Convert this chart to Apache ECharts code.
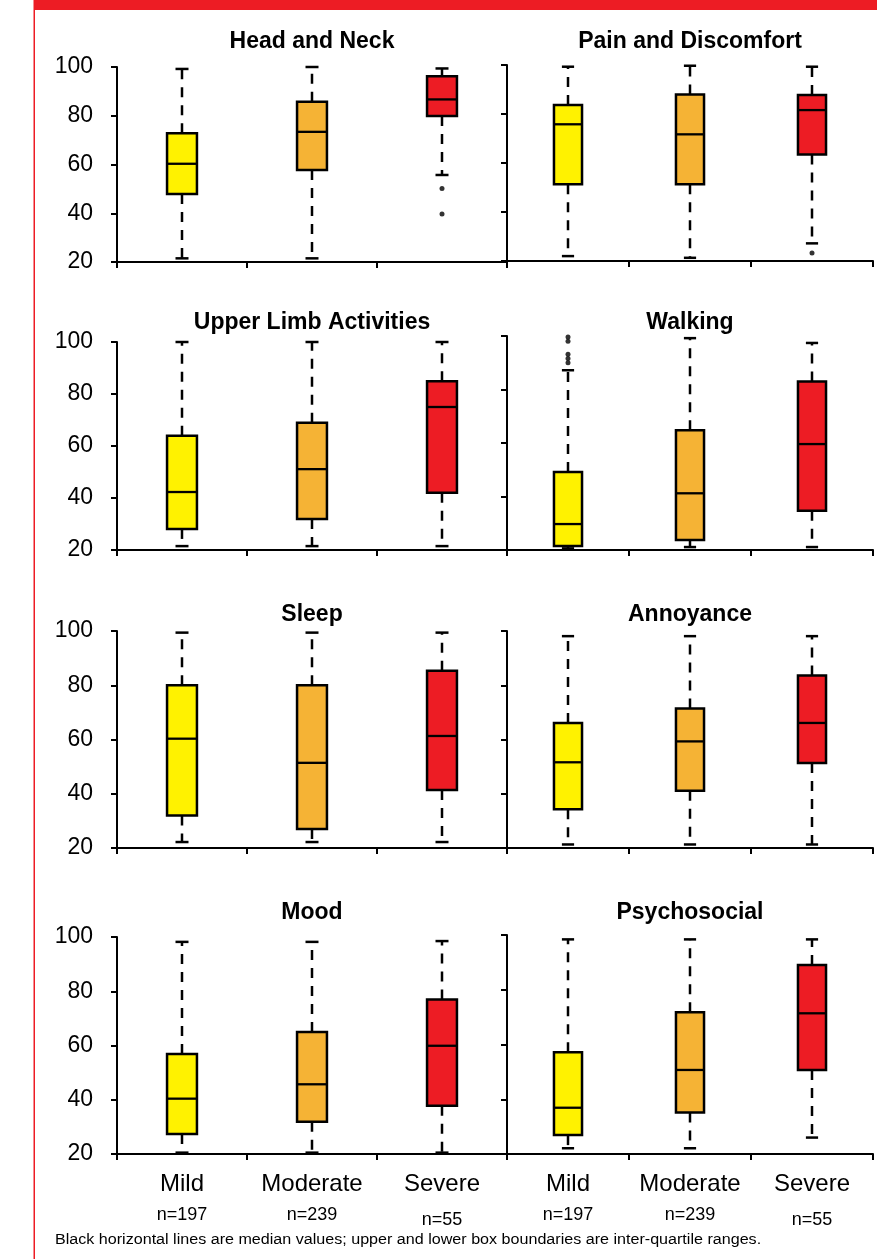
<!DOCTYPE html>
<html>
<head>
<meta charset="utf-8">
<script src="https://cdn.jsdelivr.net/npm/echarts@6/dist/echarts.min.js"></script>
<style>
html,body{margin:0;padding:0;background:#fff;}
#chart{width:877px;height:1259px;}
</style>
</head>
<body>
<div id="chart"></div>
<script>
// ---- data: [min, Q1, median, Q3, max] per category ----
const categories = ['Mild', 'Moderate', 'Severe'];
const nCounts = [197, 239, 55];
const yTicks = [20, 40, 60, 80, 100];
const panelTitles = ['Head and Neck', 'Pain and Discomfort', 'Upper Limb Activities', 'Walking', 'Sleep', 'Annoyance', 'Mood', 'Psychosocial'];

const headNeck = [[21.5, 47.9, 60.3, 72.8, 99.2], [21.5, 57.7, 73.4, 85.7, 100], [55.7, 79.9, 86.7, 96.2, 99.4]];
const headNeckOutliers = [[2, 50.2], [2, 39.7]];
const painDiscomfort = [[22, 51.3, 75.8, 83.7, 99.3], [21.3, 51.3, 71.7, 88, 99.7], [27.2, 63.5, 81.6, 87.8, 99.3]];
const painDiscomfortOutliers = [[2, 23.3]];
const upperLimb = [[21.5, 28.1, 42.3, 63.9, 100], [21.5, 31.9, 51.1, 68.9, 100], [21.5, 42, 75, 84.9, 100]];
const upperLimbOutliers = [];
const walking = [[20.6, 21.5, 29.7, 49.2, 87.2], [21.1, 23.7, 41.2, 64.8, 99.2], [21.1, 34.7, 59.6, 83, 97.4]];
const walkingOutliers = [[0, 99.6], [0, 98], [0, 93.2], [0, 91.6], [0, 90]];
const sleep = [[22.2, 32, 60.3, 80, 99.4], [22.2, 27, 51.4, 80, 99.4], [22.2, 41.4, 61.3, 85.3, 99.4]];
const sleepOutliers = [];
const annoyance = [[21.3, 34.3, 51.6, 66.1, 98.1], [21.3, 41.1, 59.3, 71.4, 98.1], [21.3, 51.3, 66.1, 83.6, 98.1]];
const annoyanceOutliers = [];
const mood = [[20.5, 27.4, 40.4, 56.9, 98.2], [20.5, 31.9, 45.7, 65, 98.2], [20.5, 37.8, 59.9, 77, 98.5]];
const moodOutliers = [];
const psychosocial = [[22.1, 26.9, 36.9, 57.2, 98.4], [22.1, 35.2, 50.7, 71.8, 98.4], [26, 50.7, 71.4, 89, 98.4]];
const psychosocialOutliers = [];

const panelData = [headNeck, painDiscomfort, upperLimb, walking, sleep, annoyance, mood, psychosocial];
const panelOutliers = [headNeckOutliers, painDiscomfortOutliers, upperLimbOutliers, walkingOutliers, sleepOutliers, annoyanceOutliers, moodOutliers, psychosocialOutliers];
const footnote = 'Black horizontal lines are median values; upper and lower box boundaries are inter-quartile ranges.';

// ---- layout & style ----
const FONT = '"Liberation Sans", Arial, sans-serif';
const boxColors = ['#FFF200', '#F5B335', '#ED1C24'];
const grids = [
  {left: 117, width: 390, top: 67, height: 195},
  {left: 507, width: 366, top: 65, height: 196},
  {left: 117, width: 390, top: 342, height: 208},
  {left: 507, width: 366, top: 336, height: 214},
  {left: 117, width: 390, top: 631, height: 217},
  {left: 507, width: 366, top: 631, height: 217},
  {left: 117, width: 390, top: 937, height: 217},
  {left: 507, width: 366, top: 935, height: 219}
];
const titleY = [30, 30, 311, 311, 603, 603, 901, 901];

function renderBox(params, api) {
  const c = api.value(0);
  const lo = api.coord([c, api.value(1)]);
  const q1 = api.coord([c, api.value(2)]);
  const md = api.coord([c, api.value(3)]);
  const q3 = api.coord([c, api.value(4)]);
  const hi = api.coord([c, api.value(5)]);
  const band = api.size([1, 0])[0];
  const bw = band * 0.23;
  const cw = band * 0.1;
  const cx = lo[0];
  const dash = {stroke: '#000', lineWidth: 2.5, lineDash: [10, 8]};
  const solid = {stroke: '#000', lineWidth: 2.5};
  return {
    type: 'group',
    children: [
      {type: 'line', shape: {x1: cx, y1: q3[1], x2: cx, y2: hi[1]}, style: dash},
      {type: 'line', shape: {x1: cx, y1: q1[1], x2: cx, y2: lo[1]}, style: dash},
      {type: 'line', shape: {x1: cx - cw / 2, y1: hi[1], x2: cx + cw / 2, y2: hi[1]}, style: solid},
      {type: 'line', shape: {x1: cx - cw / 2, y1: lo[1], x2: cx + cw / 2, y2: lo[1]}, style: solid},
      {type: 'rect', shape: {x: cx - bw / 2, y: q3[1], width: bw, height: q1[1] - q3[1]},
        style: {fill: boxColors[c], stroke: '#000', lineWidth: 2.5}},
      {type: 'line', shape: {x1: cx - bw / 2, y1: md[1], x2: cx + bw / 2, y2: md[1]}, style: {stroke: '#000', lineWidth: 2.3}}
    ]
  };
}

const option = {
  animation: false,
  backgroundColor: '#fff',
  textStyle: {fontFamily: FONT},
  title: panelTitles.map((t, i) => ({
    text: t,
    left: grids[i].left + grids[i].width / 2,
    top: titleY[i],
    textAlign: 'center',
    padding: 0,
    textStyle: {fontSize: 23, fontWeight: 'bold', color: '#000', fontFamily: FONT}
  })),
  grid: grids,
  xAxis: grids.map((g, i) => ({
    type: 'category',
    gridIndex: i,
    data: categories,
    boundaryGap: true,
    axisLine: {show: true, lineStyle: {color: '#000', width: 2}},
    axisTick: {show: true, length: 6, alignWithLabel: false, lineStyle: {color: '#000', width: 2}},
    axisLabel: i >= 6 ? {
      show: true, margin: 15, interval: 0,
      formatter: (v, idx) => '{a|' + v + '}\n{' + (nCounts[idx] < 100 ? 'c' : 'b') + '|n=' + nCounts[idx] + '}',
      rich: {
        a: {fontSize: 24, lineHeight: 31, color: '#000', fontFamily: FONT},
        b: {fontSize: 18, lineHeight: 30, color: '#000', fontFamily: FONT},
        c: {fontSize: 18, lineHeight: 30, color: '#000', fontFamily: FONT, padding: [10, 0, 0, 0]}
      }
    } : {show: false},
    splitLine: {show: false}
  })),
  yAxis: grids.map((g, i) => ({
    type: 'value',
    gridIndex: i,
    min: yTicks[0],
    max: yTicks[yTicks.length - 1],
    interval: 20,
    axisLine: {show: true, lineStyle: {color: '#000', width: 2}},
    axisTick: {show: true, length: 6, inside: false, lineStyle: {color: '#000', width: 2}},
    axisLabel: {show: i % 2 === 0, fontSize: 23, color: '#000', margin: 24, fontFamily: FONT},
    splitLine: {show: false}
  })),
  series: [],
  graphic: [
    {type: 'rect', shape: {x: 34, y: 0, width: 843, height: 10}, style: {fill: '#ED1C24'}, silent: true},
    {type: 'rect', shape: {x: 33.5, y: 0, width: 1.5, height: 1259}, style: {fill: '#ED1C24'}, silent: true},
    {type: 'text', x: 55, y: 1233, scaleX: 1.15, style: {text: footnote, font: '14px ' + FONT, fill: '#000'}, silent: true}
  ]
};

panelData.forEach((d, i) => {
  option.series.push({
    type: 'custom',
    xAxisIndex: i,
    yAxisIndex: i,
    renderItem: renderBox,
    encode: {x: 0, y: [1, 2, 3, 4, 5]},
    clip: false,
    data: d.map((row, k) => [k].concat(row))
  });
  option.series.push({
    type: 'scatter',
    xAxisIndex: i,
    yAxisIndex: i,
    symbol: 'circle',
    symbolSize: 5,
    itemStyle: {color: '#000'},
    data: panelOutliers[i]
  });
});

const chart = echarts.init(document.getElementById('chart'), null, {renderer: 'canvas'});
chart.setOption(option);
</script>
</body>
</html>
